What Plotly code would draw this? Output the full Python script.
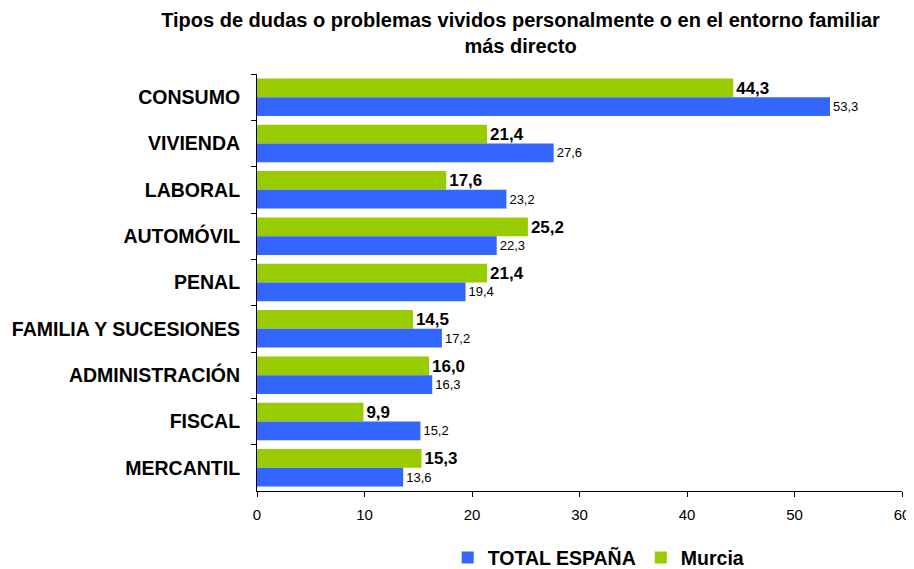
import plotly.graph_objects as go

categories = ["CONSUMO", "VIVIENDA", "LABORAL", "AUTOMÓVIL", "PENAL",
              "FAMILIA Y SUCESIONES", "ADMINISTRACIÓN", "FISCAL", "MERCANTIL"]
murcia = [44.3, 21.4, 17.6, 25.2, 21.4, 14.5, 16.0, 9.9, 15.3]
total_espana = [53.3, 27.6, 23.2, 22.3, 19.4, 17.2, 16.3, 15.2, 13.6]
x_ticks = [0, 10, 20, 30, 40, 50, 60]

FONT = "Liberation Sans, Arial, sans-serif"

fig = go.Figure()
fig.add_trace(go.Bar(
    y=categories, x=murcia, name="Murcia", orientation="h",
    marker=dict(color="#99CC00", line=dict(width=0)),
    texttemplate="%{x:.1f}", textposition="outside",
    textfont=dict(family=FONT, size=19, color="black", weight="bold"),
    cliponaxis=False, legendrank=2,
))
fig.add_trace(go.Bar(
    y=categories, x=total_espana, name="TOTAL ESPAÑA", orientation="h",
    marker=dict(color="#3366FF", line=dict(width=0)),
    texttemplate="%{x:.1f}", textposition="outside",
    textfont=dict(family=FONT, size=13, color="black"),
    cliponaxis=False, legendrank=1,
))

# The page body adds an 8px offset, so the figure is 906x561
fig.update_layout(
    width=906, height=561,
    barmode="group", bargap=0.19, bargroupgap=0,
    separators=",.",
    paper_bgcolor="white", plot_bgcolor="white",
    margin=dict(l=249, r=12, t=66, b=78, autoexpand=False),
    font=dict(family=FONT, color="black"),
    title=dict(
        text="Tipos de dudas o problemas vividos personalmente o en el entorno familiar<br>más directo",
        x=0.5657, xref="container", xanchor="center",
        y=0.967, yref="container", yanchor="middle",
        font=dict(family=FONT, size=20, color="black", weight="bold"),
    ),
    legend=dict(
        orientation="h", x=0.652, xref="container", xanchor="center",
        y=0.02, yref="container", yanchor="middle",
        font=dict(family=FONT, size=19.5, color="black", weight="bold"),
        itemwidth=30, traceorder="normal",
    ),
    showlegend=True,
)
fig.update_xaxes(
    range=[0, 60], tickvals=x_ticks, showgrid=False, zeroline=False,
    showline=True, linecolor="black", linewidth=1,
    ticks="outside", ticklen=5, tickcolor="black",
    ticklabelstandoff=5, automargin=False, ticklabeloverflow="allow",
    tickfont=dict(family=FONT, size=15, color="black"),
)
fig.update_yaxes(
    autorange="reversed", showgrid=False, zeroline=False,
    showline=True, linecolor="black", linewidth=1,
    ticks="outside", ticklen=5, tickcolor="black", tickson="boundaries",
    ticklabelstandoff=12, automargin=False,
    tickfont=dict(family=FONT, size=19.5, color="black", weight="bold"),
)

fig.write_html("out.html")
